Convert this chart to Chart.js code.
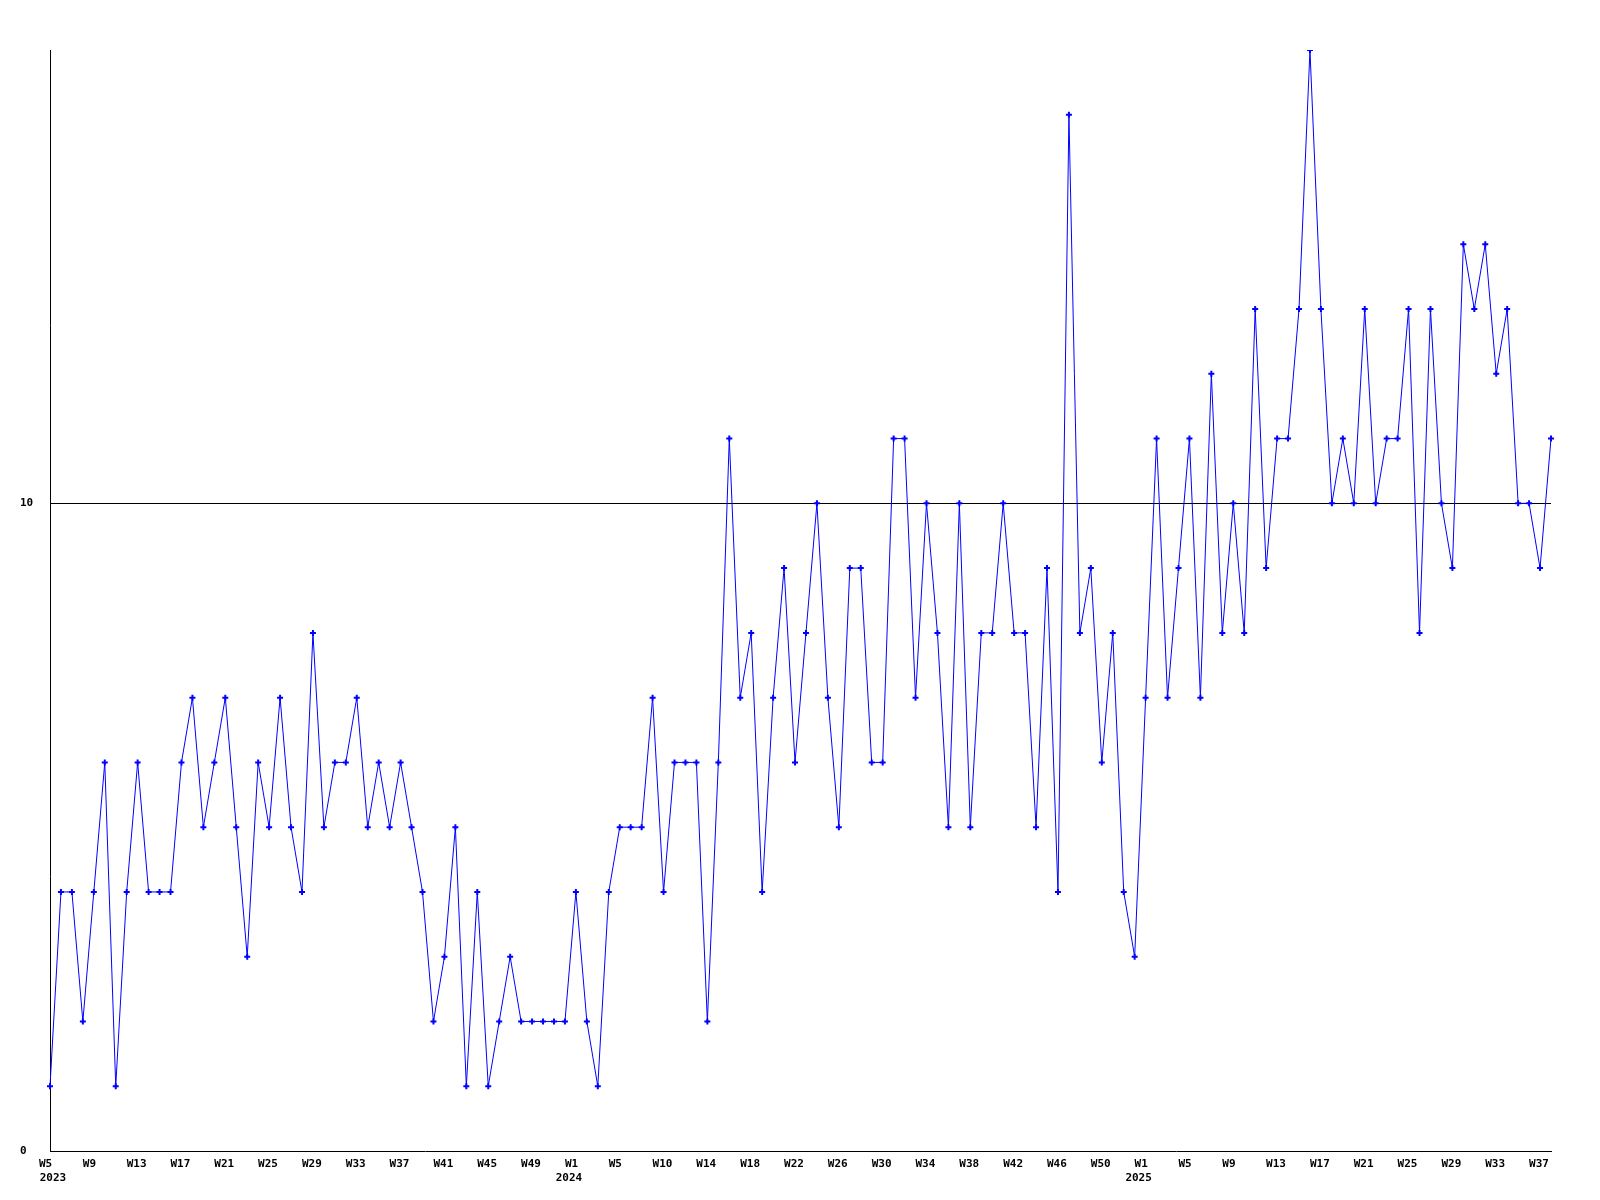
<!DOCTYPE html>
<html>
<head>
<meta charset="utf-8">
<script src="https://cdn.jsdelivr.net/npm/chart.js@4/dist/chart.umd.min.js"></script>
<style>
  body { margin: 0; background: #fff; }
</style>
</head>
<body>
<canvas id="plotCanvas" width="1600" height="1200"></canvas>
<script>
// weeks per year (2024 label numbering skips W6)
const weeks2023 = [];
for (let w = 5; w <= 52; w++) weeks2023.push("W" + w);
const weeks2024 = ["W1", "W2", "W3", "W4", "W5"];
for (let w = 7; w <= 53; w++) weeks2024.push("W" + w);
const weeks2025 = [];
for (let w = 1; w <= 38; w++) weeks2025.push("W" + w);

const labels = weeks2023.concat(weeks2024, weeks2025);
// year shown under the first week of each year
const yearStarts = { 0: "2023", 48: "2024", 100: "2025" };

const values2023 = [
  1, 4, 4, 2, 4, 6, 1, 4, 6, 4, 4, 4, 6, 7, 5, 6,
  7, 5, 3, 6, 5, 7, 5, 4, 8, 5, 6, 6, 7, 5, 6, 5,
  6, 5, 4, 2, 3, 5, 1, 4, 1, 2, 3, 2, 2, 2, 2, 2,
];
const values2024 = [
  4, 2, 1, 4, 5, 5, 5, 7, 4, 6, 6, 6, 2, 6, 11, 7,
  8, 4, 7, 9, 6, 8, 10, 7, 5, 9, 9, 6, 6, 11, 11, 7,
  10, 8, 5, 10, 5, 8, 8, 10, 8, 8, 5, 9, 4, 16, 8, 9,
  6, 8, 4, 3,
];
const values2025 = [
  7, 11, 7, 9, 11, 7, 12, 8, 10, 8, 13, 9, 11, 11, 13, 17,
  13, 10, 11, 10, 13, 10, 11, 11, 13, 8, 13, 10, 9, 14, 13, 14,
  12, 13, 10, 10, 9, 11,
];
const values = values2023.concat(values2024, values2025);

const yTicks = [0, 10];
const yMax = 17;

const tickFont = { family: "DejaVu Sans Mono", size: 11, weight: "bold", lineHeight: 1.3 };

const ctx = document.getElementById("plotCanvas").getContext("2d");
const chart = new Chart(ctx, {
  type: "line",
  data: {
    labels: labels,
    datasets: [
      {
        data: values,
        borderColor: "#0000ff",
        backgroundColor: "#0000ff",
        borderWidth: 1,
        tension: 0,
        pointStyle: "cross",
        pointRadius: 3,
        pointBorderWidth: 2,
        pointHoverRadius: 3,
      },
    ],
  },
  options: {
    responsive: false,
    animation: false,
    layout: { padding: { left: 20, top: 50, right: 49, bottom: 0 } },
    plugins: { legend: { display: false }, tooltip: { enabled: false } },
    scales: {
      x: {
        offset: false,
        grid: { display: false, drawTicks: false },
        border: { display: true, color: "#000", width: 1 },
        afterFit: (scale) => { scale.height = 20; },
        ticks: {
          autoSkip: false,
          maxRotation: 0,
          minRotation: 0,
          padding: 6,
          align: "start",
          labelOffset: -11,
          color: "#000",
          font: tickFont,
          callback: function (value, index) {
            return index % 4 === 0 ? labels[index] : "";
          },
        },
      },
      year: {
        type: "category",
        position: "bottom",
        offset: false,
        grid: { display: false, drawTicks: false },
        border: { display: false },
        afterFit: (scale) => { scale.height = 29; },
        ticks: {
          autoSkip: false,
          maxRotation: 0,
          minRotation: 0,
          padding: 0,
          labelOffset: -7,
          color: "#000",
          font: tickFont,
          callback: function (value, index) {
            const year = yearStarts[index];
            if (!year) return "";
            // first year is pushed right so it does not run past the axis start
            return index === 0 ? "   " + year : year;
          },
        },
      },
      y: {
        min: 0,
        max: yMax,
        afterFit: (scale) => { scale.width = 30; },
        afterBuildTicks: (scale) => {
          scale.ticks = yTicks.map((v) => ({ value: v }));
        },
        grid: {
          drawTicks: false,
          color: (c) => (c.tick && c.tick.value === 10 ? "#000" : "rgba(0,0,0,0)"),
          lineWidth: 1,
        },
        border: { display: true, color: "#000", width: 1 },
        ticks: {
          crossAlign: "far",
          padding: 17,
          color: "#000",
          font: { family: "DejaVu Sans Mono", size: 11, weight: "bold" },
        },
      },
    },
  },
});
</script>
</body>
</html>
